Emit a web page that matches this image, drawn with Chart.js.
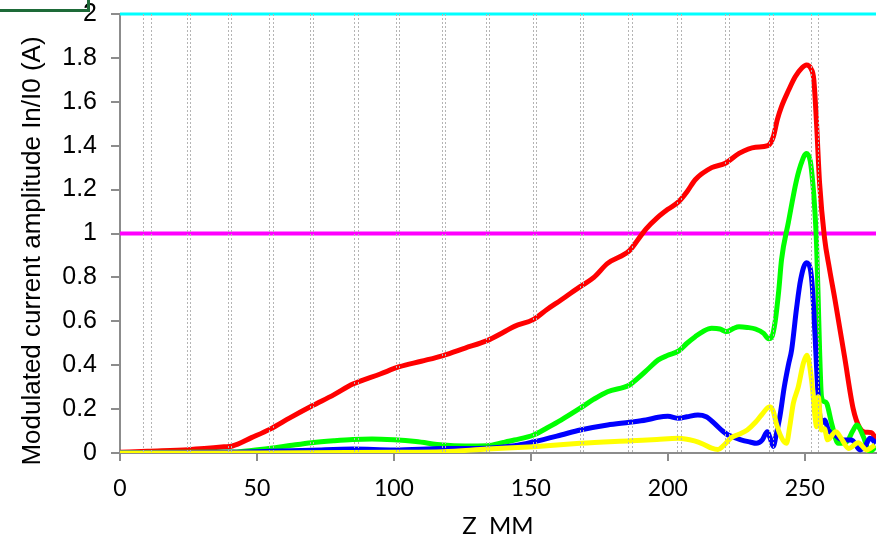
<!DOCTYPE html>
<html>
<head>
<meta charset="utf-8">
<script src="https://cdn.jsdelivr.net/npm/chart.js@4"></script>
<style>
  html, body { margin: 0; padding: 0; background: #fff; }
  #wrap { position: relative; width: 883px; height: 538px; overflow: hidden; }
  #frame { position: absolute; left: -10px; top: -10px; width: 100px; height: 22px;
           box-sizing: border-box; border: 3px solid #1d6a38; }
</style>
</head>
<body>
<div id="wrap">
  <canvas id="amp" width="883" height="538"></canvas>
  <div id="frame"></div>
</div>
<script>
// axis ticks
const xTicks = [0, 50, 100, 150, 200, 250];
const yTicks = [0, 0.2, 0.4, 0.6, 0.8, 1, 1.2, 1.4, 1.6, 1.8, 2];

// cell boundaries along Z (mm)
const cellEdges = [8.5, 11.3, 24.4, 25.6, 39.4, 40.6, 54.3, 55.7, 69.3, 70.5, 85.6, 86.8,
  100.9, 102.0, 117.4, 118.7, 133.5, 134.8, 150.6, 151.8, 167.9, 169.2, 185.6, 187.0,
  203.4, 204.9, 221.0, 222.2, 237.0, 238.5, 252.2, 254.8];

// reference levels
const levelTop = 2;
const levelUnit = 1;

// red harmonic
const zRed = [0, 10, 25, 38, 41, 48, 55, 62, 70, 78, 85, 95, 102, 110, 118, 126, 134, 140, 144,
  151, 156, 161, 168, 173, 178, 186, 189, 192, 196, 200, 204, 207, 210, 216, 221, 226, 232,
  236.5, 238.5, 240, 241.5, 244, 246.5, 249, 250.6, 252.3, 253.3, 254.3, 255.4, 257.2, 259,
  261, 264.5, 267.7, 270, 272, 274.4, 276];
const ampRed = [0.003, 0.008, 0.015, 0.028, 0.032, 0.07, 0.11, 0.16, 0.214, 0.265, 0.314, 0.36,
  0.393, 0.418, 0.444, 0.478, 0.512, 0.55, 0.577, 0.609, 0.655, 0.697, 0.758, 0.8, 0.864, 0.922,
  0.97, 1.02, 1.07, 1.11, 1.145, 1.19, 1.245, 1.3, 1.32, 1.365, 1.393, 1.4, 1.44, 1.52, 1.578,
  1.65, 1.714, 1.755, 1.768, 1.75, 1.7, 1.5, 1.23, 0.98, 0.84, 0.7, 0.44, 0.2, 0.115, 0.095,
  0.093, 0.06];

// green harmonic
const zGreen = [0, 40, 48, 55, 62, 70, 78, 85, 92, 100, 108, 118, 126, 134, 140, 144, 151, 156,
  161, 168, 173, 178, 186, 189, 193, 196.5, 200, 204, 207, 210, 213, 216, 219, 221.4, 224, 226,
  229, 232, 235, 236.8, 238, 239.2, 240.5, 241.5, 244, 247, 249, 250.6, 252, 253, 253.6, 254.3,
  254.9, 255.4, 256.1, 257, 258, 259.8, 262.2, 265.3, 267.5, 269, 271.4, 273.7, 276];
const ampGreen = [0.002, 0.004, 0.012, 0.022, 0.034, 0.047, 0.056, 0.062, 0.064, 0.06, 0.052,
  0.036, 0.032, 0.033, 0.048, 0.059, 0.082, 0.115, 0.15, 0.204, 0.245, 0.279, 0.31, 0.34, 0.385,
  0.424, 0.445, 0.465, 0.5, 0.53, 0.555, 0.568, 0.565, 0.553, 0.568, 0.575, 0.572, 0.565, 0.545,
  0.52, 0.53, 0.6, 0.74, 0.88, 1.05, 1.244, 1.33, 1.365, 1.33, 1.22, 1.12, 0.95, 0.7, 0.47,
  0.256, 0.235, 0.226, 0.135, 0.044, 0.051, 0.1, 0.128, 0.074, 0.006, 0.03];

// blue harmonic
const zBlue = [0, 40, 55, 70, 85, 100, 118, 134, 144, 151, 161, 168, 178, 186, 192, 196.5, 200,
  204, 207, 211, 214, 217, 220, 222, 224.5, 227, 230, 232.3, 234.5, 236.3, 237.3, 238.5, 239.5,
  240.9, 242.5, 244, 245.2, 247, 248.5, 250.6, 252, 252.8, 253.7, 254.9, 256.1, 257.3, 258.6,
  261, 264, 267.1, 270.2, 272, 273.8, 276];
const ampBlue = [0.001, 0.003, 0.008, 0.013, 0.018, 0.014, 0.02, 0.022, 0.033, 0.051, 0.082,
  0.105, 0.128, 0.14, 0.15, 0.163, 0.167, 0.158, 0.165, 0.173, 0.165, 0.135, 0.1, 0.082, 0.07,
  0.059, 0.05, 0.044, 0.06, 0.097, 0.07, 0.03, 0.08, 0.166, 0.3, 0.4, 0.47, 0.66, 0.79, 0.867,
  0.84, 0.75, 0.545, 0.256, 0.135, 0.15, 0.105, 0.082, 0.059, 0.059, 0.014, 0.03, 0.067, 0.044];

// yellow harmonic
const zYellow = [0, 50, 100, 118, 134, 151, 168, 186.6, 196, 203.7, 209.7, 213, 216, 218.3, 220,
  223.2, 226, 229, 232, 234.2, 237.2, 238.5, 239.6, 241.5, 243.3, 244.5, 245.8, 247.6, 249.5,
  250.8, 252.5, 253.7, 254.3, 254.9, 256.1, 257.2, 258.3, 261.3, 263.4, 266, 269.5, 272.6, 275.6];
const ampYellow = [0, 0, 0.003, 0.006, 0.018, 0.029, 0.044, 0.056, 0.062, 0.067, 0.055, 0.04,
  0.022, 0.016, 0.03, 0.07, 0.085, 0.105, 0.14, 0.173, 0.211, 0.19, 0.135, 0.07, 0.044, 0.12,
  0.226, 0.3, 0.41, 0.445, 0.33, 0.17, 0.12, 0.256, 0.105, 0.11, 0.06, 0.097, 0.065, 0.021,
  0.047, 0.014, 0.036];

const Z_MAX = 276;

function toPoints(zs, vals) {
  return zs.map((z, i) => ({ x: z, y: vals[i] }));
}

function curve(zs, vals, color, order) {
  return {
    data: toPoints(zs, vals),
    borderColor: color,
    borderWidth: 5,
    cubicInterpolationMode: 'monotone',
    pointRadius: 0,
    order: order
  };
}

function level(value, color, width, order) {
  return {
    data: [{ x: 0, y: value }, { x: Z_MAX, y: value }],
    borderColor: color,
    borderWidth: width,
    pointRadius: 0,
    clip: 3,
    order: order
  };
}

// dotted cell boundaries, drawn over the curves
const cellLines = {
  id: 'cellLines',
  afterDatasetsDraw(chart) {
    const { ctx, chartArea, scales } = chart;
    ctx.save();
    ctx.strokeStyle = '#b4b4b4';
    ctx.lineWidth = 1;
    ctx.setLineDash([2, 2]);
    cellEdges.forEach(z => {
      const px = Math.round(scales.x.getPixelForValue(z)) + 0.5;
      ctx.beginPath();
      ctx.moveTo(px, chartArea.top);
      ctx.lineTo(px, chartArea.bottom);
      ctx.stroke();
    });
    ctx.restore();
  }
};

// vertical axis title
const ampTitle = {
  id: 'ampTitle',
  afterDraw(chart) {
    const ctx = chart.ctx;
    ctx.save();
    ctx.translate(33, 251);
    ctx.rotate(-Math.PI / 2);
    ctx.font = '26px "Liberation Sans", Arial, sans-serif';
    ctx.fillStyle = '#000';
    ctx.textAlign = 'center';
    ctx.textBaseline = 'middle';
    ctx.fillText('Modulated current amplitude In/I0 (A)', 0, 0);
    ctx.restore();
  }
};

const ctx = document.getElementById('amp').getContext('2d');
const ampChart = new Chart(ctx, {
  type: 'line',
  data: {
    datasets: [
      curve(zYellow, ampYellow, '#ffff00', 1),
      curve(zBlue, ampBlue, '#0000ff', 2),
      curve(zGreen, ampGreen, '#00ff00', 3),
      curve(zRed, ampRed, '#ff0000', 4),
      level(levelUnit, '#ff00ff', 4, 5),
      level(levelTop, '#00ffff', 3, 6)
    ]
  },
  options: {
    responsive: false,
    animation: false,
    devicePixelRatio: 1,
    layout: { padding: { left: 0, right: 7, top: 14, bottom: 0 } },
    plugins: {
      legend: { display: false },
      tooltip: { enabled: false }
    },
    scales: {
      x: {
        type: 'linear',
        min: 0,
        max: Z_MAX,
        afterFit: s => { s.height = 85; s.paddingLeft = 0; s.paddingRight = 0; },
        afterBuildTicks: s => { s.ticks = xTicks.map(v => ({ value: v })); },
        ticks: {
          color: '#000',
          padding: 14,
          font: { family: 'Lato', size: 23 },
          callback: v => String(v)
        },
        grid: { display: true, drawOnChartArea: false, drawTicks: true, tickLength: 8,
                color: '#8c8c8c', lineWidth: 2 },
        border: { display: true, color: '#8c8c8c', width: 2 },
        title: {
          display: true,
          text: 'Z  MM',
          color: '#000',
          font: { family: 'Lato', size: 24, lineHeight: 1 },
          padding: { top: 0, bottom: 0 }
        }
      },
      y: {
        min: 0,
        max: 2,
        afterFit: s => { s.width = 120; s.paddingTop = 0; s.paddingBottom = 0; },
        afterBuildTicks: s => { s.ticks = yTicks.map(v => ({ value: v })); },
        ticks: {
          color: '#000',
          padding: 14,
          font: { family: 'Liberation Sans', size: 25, lineHeight: 1 },
          callback: v => String(v)
        },
        grid: { display: true, drawOnChartArea: false, drawTicks: true, tickLength: 9,
                color: '#8c8c8c', lineWidth: 2 },
        border: { display: true, color: '#8c8c8c', width: 2 }
      }
    }
  },
  plugins: [cellLines, ampTitle]
});
</script>
</body>
</html>
